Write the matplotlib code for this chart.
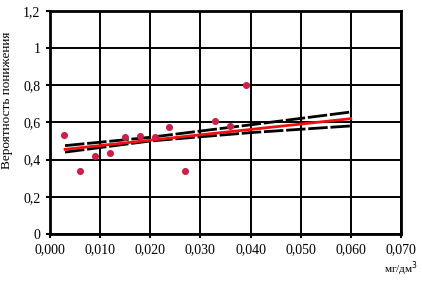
import matplotlib.pyplot as plt
import numpy as np

plt.rcParams['font.family'] = ['Liberation Serif', 'DejaVu Serif']

# observed points
conc = [0.0028, 0.0059, 0.0090, 0.0120, 0.0150, 0.0179, 0.0209, 0.0238,
        0.0270, 0.0329, 0.0359, 0.0391]
prob = [0.53, 0.337, 0.42, 0.436, 0.524, 0.529, 0.524, 0.576,
        0.337, 0.607, 0.578, 0.80]

# regression line
fit_x = [0.003, 0.060]
fit_y = [0.455, 0.62]

# confidence bands
band_x = [0.003, 0.020, 0.040, 0.060]
band_hi = [0.475, 0.52, 0.587, 0.656]
band_lo = [0.44, 0.50, 0.545, 0.581]

xticks = [0.0, 0.01, 0.02, 0.03, 0.04, 0.05, 0.06, 0.07]
xtick_labels = ['0,000', '0,010', '0,020', '0,030', '0,040', '0,050', '0,060', '0,070']
yticks = [0, 0.2, 0.4, 0.6, 0.8, 1.0, 1.2]
ytick_labels = ['0', '0,2', '0,4', '0,6', '0,8', '1', '1,2']

fig = plt.figure(figsize=(4.22, 2.87), dpi=100)
ax = fig.add_axes([0.1185, 0.185, 0.8315, 0.777])

ax.plot(band_x, band_hi, color='black', lw=2, ls=(0, (7, 1)), zorder=3)
ax.plot(band_x, band_lo, color='black', lw=2, ls=(0, (7, 1)), zorder=3)
ax.plot(fit_x, fit_y, color='#ee1111', lw=2, zorder=4)
ax.scatter(conc, prob, s=26, color='#cc1f4a', zorder=5, linewidths=0)

ax.set_xlim(0, 0.07)
ax.set_ylim(0, 1.2)
ax.set_xticks(xticks)
ax.set_xticklabels(xtick_labels)
ax.set_yticks(yticks)
ax.set_yticklabels(ytick_labels)
ax.tick_params(labelsize=10, direction='out', length=3, width=1.5, pad=4)
ax.grid(True, color='black', lw=1.4)
ax.set_axisbelow(True)
for s in ax.spines.values():
    s.set_linewidth(2)

ax.set_ylabel('Вероятность понижения', fontsize=9.5)
ax.yaxis.set_label_coords(-0.105, 0.6)
fig.text(0.99, 0.03, 'мг/дм$^3$', fontsize=8, ha='right', va='bottom')

fig.savefig('out.png', dpi=100)
